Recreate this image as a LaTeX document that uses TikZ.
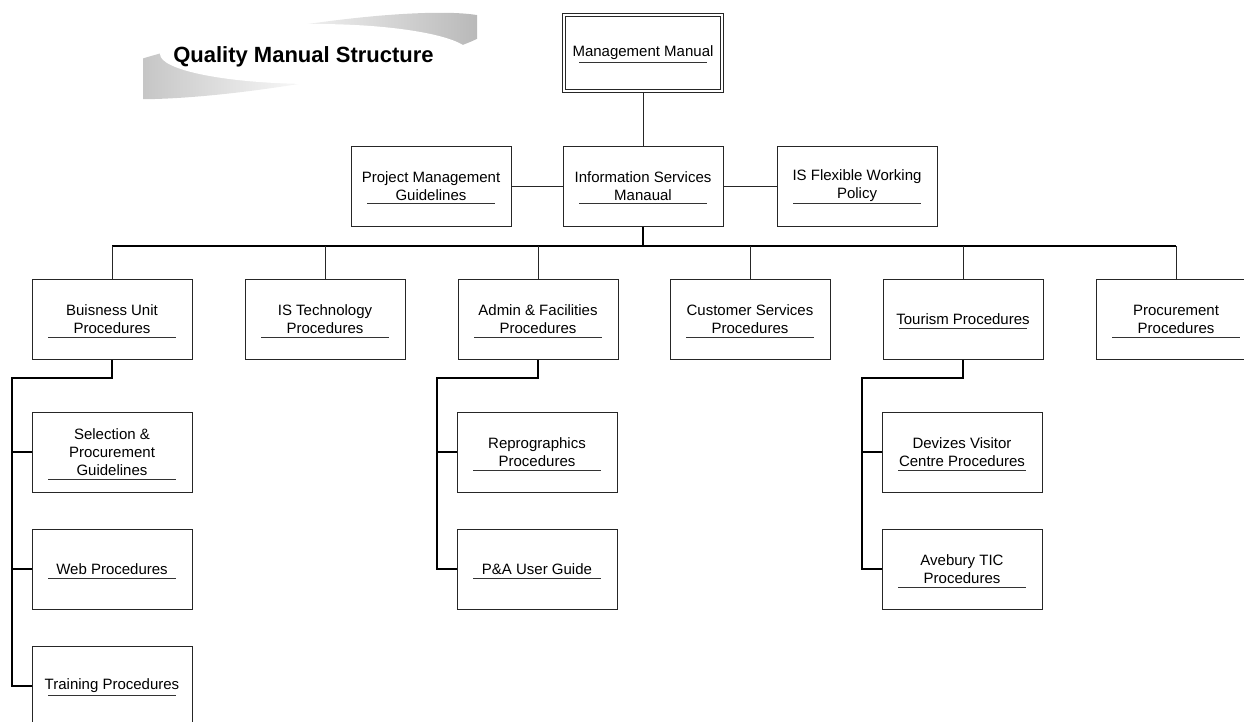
\documentclass[tikz,border=0pt]{standalone}
\usepackage{fontspec}
\setmainfont{Liberation Sans}
\usetikzlibrary{calc,backgrounds}
\newcommand\ulfor[2]{\draw[ul] ($(#1.center)+(-64,#2)$) -- ($(#1.center)+(64,#2)$);}
\begin{document}
\begin{tikzpicture}[x=1pt,y=-1pt,
  box/.style={draw=black!85, fill=white, line width=0.9pt, minimum width=160pt, minimum height=80pt, inner sep=0pt, align=center, font=\fontsize{15}{18}\selectfont, text=black},
  ul/.style={draw=black!80, line width=0.9pt},
  conn/.style={draw=black!85, line width=0.9pt},
  trunk/.style={draw=black, line width=1.8pt},
  branch/.style={draw=black, line width=1.3pt},
]
\useasboundingbox (0,0) rectangle (1244,722);

% title swoosh
\begin{scope}
\clip (143,0) rectangle (477,110);
\shade[left color=gray!60, right color=gray!60, middle color=gray!8, rotate around={9:(290,56)}] (290,56) ellipse [x radius=207, y radius=29];
\fill[white] (315,54) ellipse [x radius=155, y radius=30];
\end{scope}
\node[font=\bfseries\fontsize{22}{26}\selectfont, anchor=base] (title) at (303.5,63) {Quality Manual Structure};

% nodes
\node[box, minimum width=158pt, minimum height=76pt, double, double distance=2.1pt] (mm) at (643,53) {Management Manual};
\node[box] (pm) at (431,186) {Project Management\\Guidelines};
\node[box] (ism) at (643,186) {Information Services\\Manaual};
\node[box] (isf) at (857,186) {IS Flexible Working\\Policy};

\node[box] (bu) at (112,319) {Buisness Unit\\Procedures};
\node[box] (ist) at (325,319) {IS Technology\\Procedures};
\node[box] (af) at (538,319) {Admin \& Facilities\\Procedures};
\node[box] (cs) at (750,319) {Customer Services\\Procedures};
\node[box] (tr) at (963,319) {Tourism Procedures};
\node[box] (pr) at (1176,319) {Procurement\\Procedures};

\node[box] (sel) at (112,452) {Selection \&\\Procurement\\Guidelines};
\node[box] (web) at (112,569) {Web Procedures};
\node[box] (trn) at (112,686) {Training Procedures};
\node[box] (rep) at (537,452) {Reprographics\\Procedures};
\node[box] (pa) at (537,569) {P\&A User Guide};
\node[box] (dev) at (962,452) {Devizes Visitor\\Centre Procedures};
\node[box] (ave) at (962,569) {Avebury TIC\\Procedures};

% underlines
\ulfor{mm}{9}
\ulfor{pm}{17}\ulfor{ism}{17}\ulfor{isf}{17}
\ulfor{bu}{18}\ulfor{ist}{18}\ulfor{af}{18}\ulfor{cs}{18}\ulfor{tr}{9}\ulfor{pr}{18}
\ulfor{sel}{27}\ulfor{web}{9}\ulfor{trn}{9}
\ulfor{rep}{18}\ulfor{pa}{9}
\ulfor{dev}{18}\ulfor{ave}{18}

% coordinates
\coordinate (busL) at (112,246);
\coordinate (busR) at (1176,246);
\coordinate (j1) at (12,378);
\coordinate (j2) at (437,378);
\coordinate (j3) at (862,378);

\begin{scope}[on background layer]
\draw[conn] (mm.south) -- (ism.north);
\draw[conn] (pm.east) -- (ism.west);
\draw[conn] (ism.east) -- (isf.west);
\draw[trunk] (ism.south) -- (ism.south |- busL);
\draw[trunk] (busL) -- (busR);
\foreach \n in {bu,ist,af,cs,tr,pr} \draw[conn] (\n.north |- busL) -- (\n.north);

\draw[branch] (bu.south) -- (bu.south |- j1) -- (j1) -- (j1 |- trn.west) -- (trn.west);
\draw[branch] (j1 |- sel.west) -- (sel.west);
\draw[branch] (j1 |- web.west) -- (web.west);

\draw[branch] (af.south) -- (af.south |- j2) -- (j2) -- (j2 |- pa.west) -- (pa.west);
\draw[branch] (j2 |- rep.west) -- (rep.west);

\draw[branch] (tr.south) -- (tr.south |- j3) -- (j3) -- (j3 |- ave.west) -- (ave.west);
\draw[branch] (j3 |- dev.west) -- (dev.west);
\end{scope}
\end{tikzpicture}
\end{document}
